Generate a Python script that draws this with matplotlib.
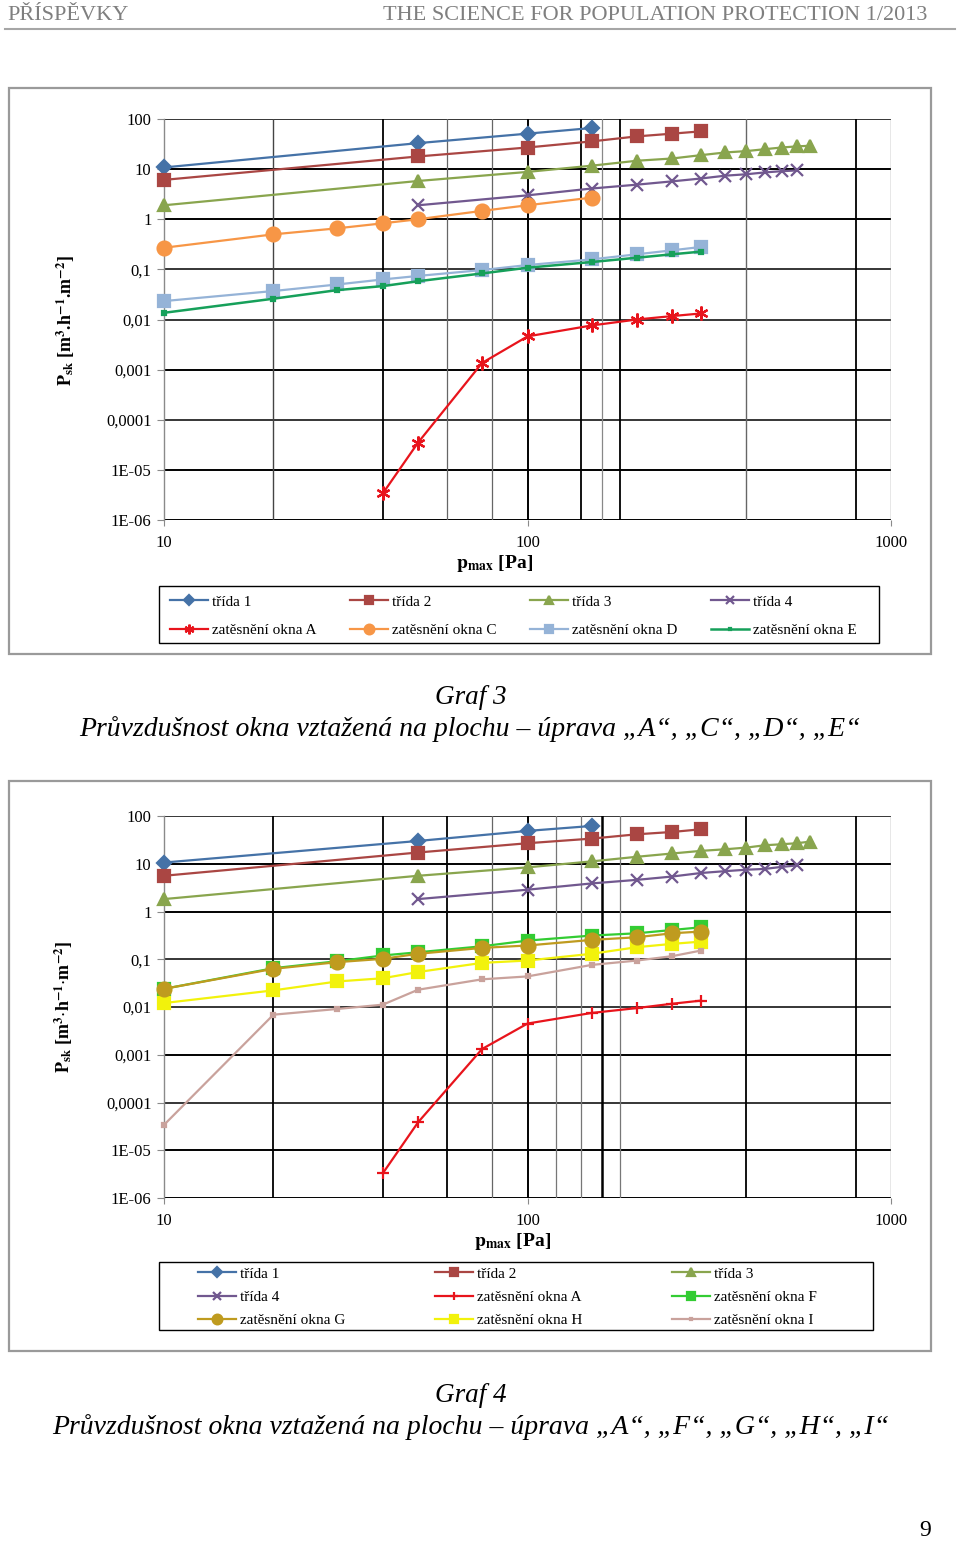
import matplotlib.pyplot as plt
from matplotlib.patches import Rectangle
from matplotlib.lines import Line2D

plt.rcParams['font.family'] = ['Liberation Serif', 'DejaVu Serif']
plt.rcParams['mathtext.fontset'] = 'stix'

W, H = 960, 1543

# pressure values [Pa]
p_t1 = [10, 50, 100, 150]
p_t2 = [10, 50, 100, 150, 200, 250, 300]
p_t3 = [10, 50, 100, 150, 200, 250, 300, 350, 400, 450, 500, 550, 600]
p_t4 = [50, 100, 150, 200, 250, 300, 350, 400, 450, 500, 550]
p_a = [40, 50, 75, 100, 150, 200, 250, 300]
p_c = [10, 20, 30, 40, 50, 75, 100, 150]
p_win = [10, 20, 30, 40, 50, 75, 100, 150, 200, 250, 300]

# Graf 3
t1_g3 = [10.8, 33, 51, 66]
t2_g3 = [6.1, 17.9, 27, 35.7, 45, 51, 56.7]
t3_g3 = [1.9, 5.8, 8.8, 11.7, 14.7, 16.3, 19, 21.5, 22.9, 25, 27, 28.4, 29.3]
t4_g3 = [1.9, 3.0, 4.1, 4.9, 5.7, 6.5, 7.4, 7.9, 8.6, 9.1, 9.4]
a_g3 = [3.4e-6, 3.5e-5, 1.36e-3, 4.6e-3, 7.6e-3, 0.010, 0.0117, 0.0132]
c_g3 = [0.27, 0.50, 0.66, 0.83, 1.0, 1.47, 1.9, 2.7]
d_g3 = [0.0233, 0.037, 0.050, 0.063, 0.074, 0.097, 0.122, 0.158, 0.20, 0.24, 0.28]
e_g3 = [0.0136, 0.026, 0.0386, 0.0464, 0.058, 0.083, 0.108, 0.14, 0.171, 0.20, 0.226]

# Graf 4
t1_g4 = [10.6, 30, 48.7, 61.8]
t2_g4 = [5.6, 17.2, 26.9, 33.6, 41.4, 46.3, 52.7]
t3_g4 = [1.82, 5.6, 8.4, 11.2, 14, 16.4, 18.6, 20.1, 21.8, 24.4, 25.6, 26.9, 29.1]
t4_g4 = [1.82, 2.86, 3.87, 4.6, 5.4, 6.4, 7.0, 7.5, 7.8, 8.6, 9.2]
a_g4 = [3.3e-6, 3.85e-5, 1.32e-3, 4.5e-3, 7.5e-3, 9.5e-3, 0.0117, 0.0136]
f_g4 = [0.024, 0.065, 0.091, 0.12, 0.14, 0.187, 0.246, 0.313, 0.35, 0.41, 0.467]
g_g4 = [0.024, 0.063, 0.087, 0.102, 0.13, 0.173, 0.194, 0.254, 0.289, 0.35, 0.38]
h_g4 = [0.0121, 0.0223, 0.0343, 0.040, 0.054, 0.084, 0.094, 0.13, 0.179, 0.21, 0.234]
i_g4 = [3.4e-5, 0.0069, 0.0091, 0.0112, 0.023, 0.038, 0.0437, 0.076, 0.094, 0.116, 0.152]

y_ticks = [1e-6, 1e-5, 1e-4, 1e-3, 1e-2, 1e-1, 1, 10, 100]
y_tick_labels = ['1E-06', '1E-05', '0,0001', '0,001', '0,01', '0,1', '1', '10', '100']
x_ticks = [10, 100, 1000]
x_tick_labels = ['10', '100', '1000']


def fx(px):
    return px / W


def fy(py):
    return 1 - py / H


def box(x0, y0, x1, y1, color, lw):
    fig.add_artist(Rectangle((fx(x0), fy(y1)), fx(x1 - x0), (y1 - y0) / H,
                             transform=fig.transFigure, fill=False, edgecolor=color, lw=lw))


def draw_panel(top, bottom, frame, vlines, series, order, ncol, leg_frame, leg_anchor, colsp, rowsp,
               ylab, ylab_pos, xlab_pos):
    box(*frame, '#9a9a9a', 1.6)
    box(*leg_frame, 'black', 1.0)
    ax = fig.add_axes([fx(164), fy(bottom), fx(891 - 164), (bottom - top) / H])
    ax.set_xscale('log')
    ax.set_yscale('log')
    ax.set_xlim(10, 1000)
    ax.set_ylim(1e-6, 100)
    for s in ['top', 'right', 'bottom']:
        ax.spines[s].set_visible(False)
    ax.spines['left'].set_color('#8a8a8a')
    ax.spines['left'].set_linewidth(1.0)
    for yv in y_ticks:
        ax.axhline(yv, color='black', lw=1.4 if yv in (1e-6, 1e-5, 1e-3, 1, 10) else 1.1, zorder=1)
    for xv, c, lw in vlines:
        ax.axvline(xv, color=c, lw=lw, zorder=1)
    ax.set_yticks(y_ticks)
    ax.set_yticklabels(y_tick_labels)
    ax.set_xticks(x_ticks)
    ax.set_xticklabels(x_tick_labels)
    ax.minorticks_off()
    ax.tick_params(axis='y', direction='out', length=5, width=0.8, color='#8a8a8a', pad=4, labelsize=12)
    ax.tick_params(axis='x', direction='out', length=4, width=0.8, color='#8a8a8a', pad=7, labelsize=12)
    handles = []
    for x, y, lab, col, mk, ms, lw, z in series:
        h, = ax.plot(x, y, color=col, marker=mk, markersize=ms, markerfacecolor=col,
                     markeredgecolor=col, markeredgewidth=1.6, lw=lw, label=lab, zorder=z, clip_on=False)
        handles.append(h)
    hs = [handles[i] for i in order]
    ax.legend(hs, [h.get_label() for h in hs], ncol=ncol, loc='upper left',
              bbox_to_anchor=(fx(leg_anchor[0]), fy(leg_anchor[1])), bbox_transform=fig.transFigure,
              frameon=False, fontsize=11, handlelength=2.5, handletextpad=0.25, borderpad=0,
              borderaxespad=0, labelspacing=rowsp, columnspacing=colsp, markerscale=0.7)
    fig.text(fx(ylab_pos[0]), fy(ylab_pos[1]), ylab, rotation=90, ha='center', va='center',
             fontsize=13, fontweight='bold')
    fig.text(fx(xlab_pos[0]), fy(xlab_pos[1]), r'$\mathbf{p}_{\mathbf{max}}$ [Pa]', ha='center', va='center',
             fontsize=14, fontweight='bold')
    return ax


fig = plt.figure(figsize=(W / 100, H / 100), dpi=100)

# header
fig.text(fx(7), fy(15), 'PŘÍSPĚVKY', ha='left', va='center', fontsize=16, color='#7f7f7f')
fig.text(fx(927), fy(15), 'THE SCIENCE FOR POPULATION PROTECTION 1/2013', ha='right', va='center',
         fontsize=16, color='#7f7f7f')
fig.add_artist(Line2D([fx(5), fx(955)], [fy(29), fy(29)], transform=fig.transFigure, color='#a6a6a6', lw=1.5))

BLUE, BROWN, OLIVE, PURPLE = '#4572A7', '#AA4643', '#89A54E', '#71588F'
RED = '#E8141C'

vl3 = [(20, '#444444', 1.0), (40, 'black', 1.3), (60, '#666666', 0.9), (80, '#666666', 0.9),
       (100, 'black', 1.4), (140, 'black', 1.3), (160, '#888888', 0.9), (180, 'black', 1.3),
       (400, '#666666', 1.0), (800, 'black', 1.3), (1000, '#888888', 1.0)]

series3 = [
    (p_t1, t1_g3, 'třída 1', BLUE, 'D', 7, 1.6, 5),
    (p_t2, t2_g3, 'třída 2', BROWN, 's', 9, 1.6, 5),
    (p_t3, t3_g3, 'třída 3', OLIVE, '^', 9, 1.6, 5),
    (p_t4, t4_g3, 'třída 4', PURPLE, 'x', 8, 1.6, 5),
    (p_a, a_g3, 'zatěsnění okna A', RED, (6, 2, 0), 10, 1.6, 5),
    (p_c, c_g3, 'zatěsnění okna C', '#F79646', 'o', 10, 1.6, 5),
    (p_win, d_g3, 'zatěsnění okna D', '#95B3D7', 's', 8, 1.6, 5),
    (p_win, e_g3, 'zatěsnění okna E', '#16A05A', 's', 3, 1.8, 6),
]
draw_panel(119, 520, (9, 88, 931, 654), vl3, series3, [0, 4, 1, 5, 2, 6, 3, 7], 4,
           (159, 586, 879, 643), (170, 595), 2.2, 0.95,
           r'$\mathbf{P}_{\mathbf{sk}}$ [m$^{\mathbf{3}}$.h$^{\mathbf{-1}}$.m$^{\mathbf{-2}}$]', (66, 320), (495, 563))

fig.text(0.49, fy(697), 'Graf 3', ha='center', va='center', fontsize=19.5, style='italic')
fig.text(0.49, fy(729), 'Průvzdušnost okna vztažená na plochu – úprava „A“, „C“, „D“, „E“',
         ha='center', va='center', fontsize=20, style='italic')

vl4 = [(20, 'black', 1.3), (40, 'black', 1.3), (60, 'black', 1.3), (80, '#666666', 0.9),
       (100, 'black', 1.4), (120, '#777777', 0.9), (140, '#777777', 0.9), (160, 'black', 1.8),
       (180, '#777777', 0.9), (400, 'black', 1.3), (800, 'black', 1.3), (1000, '#888888', 1.0)]

series4 = [
    (p_t1, t1_g4, 'třída 1', BLUE, 'D', 7, 1.6, 5),
    (p_t2, t2_g4, 'třída 2', BROWN, 's', 9, 1.6, 5),
    (p_t3, t3_g4, 'třída 3', OLIVE, '^', 9, 1.6, 5),
    (p_t4, t4_g4, 'třída 4', PURPLE, 'x', 8, 1.6, 5),
    (p_a, a_g4, 'zatěsnění okna A', RED, '+', 9, 1.6, 5),
    (p_win, f_g4, 'zatěsnění okna F', '#33CC33', 's', 9, 1.6, 5),
    (p_win, g_g4, 'zatěsnění okna G', '#BF9B1F', 'o', 10, 1.6, 6),
    (p_win, h_g4, 'zatěsnění okna H', '#F2F20C', 's', 9, 1.6, 5),
    (p_win, i_g4, 'zatěsnění okna I', '#C9A29C', 's', 3, 1.6, 5),
]
draw_panel(816, 1198, (9, 781, 931, 1351), vl4, series4, [0, 3, 6, 1, 4, 7, 2, 5, 8], 3,
           (159, 1262, 873, 1330), (198, 1267), 5.85, 0.62,
           r'$\mathbf{P}_{\mathbf{sk}}$ [m$^{\mathbf{3}}$$\cdot$h$^{\mathbf{-1}}$$\cdot$m$^{\mathbf{-2}}$]', (64, 1007), (513, 1241))

fig.text(0.49, fy(1395), 'Graf 4', ha='center', va='center', fontsize=19.5, style='italic')
fig.text(0.49, fy(1427), 'Průvzdušnost okna vztažená na plochu – úprava „A“, „F“, „G“, „H“, „I“',
         ha='center', va='center', fontsize=20, style='italic')

fig.text(fx(925), fy(1530), '9', ha='center', va='center', fontsize=17)

fig.savefig('out.png', dpi=100)
